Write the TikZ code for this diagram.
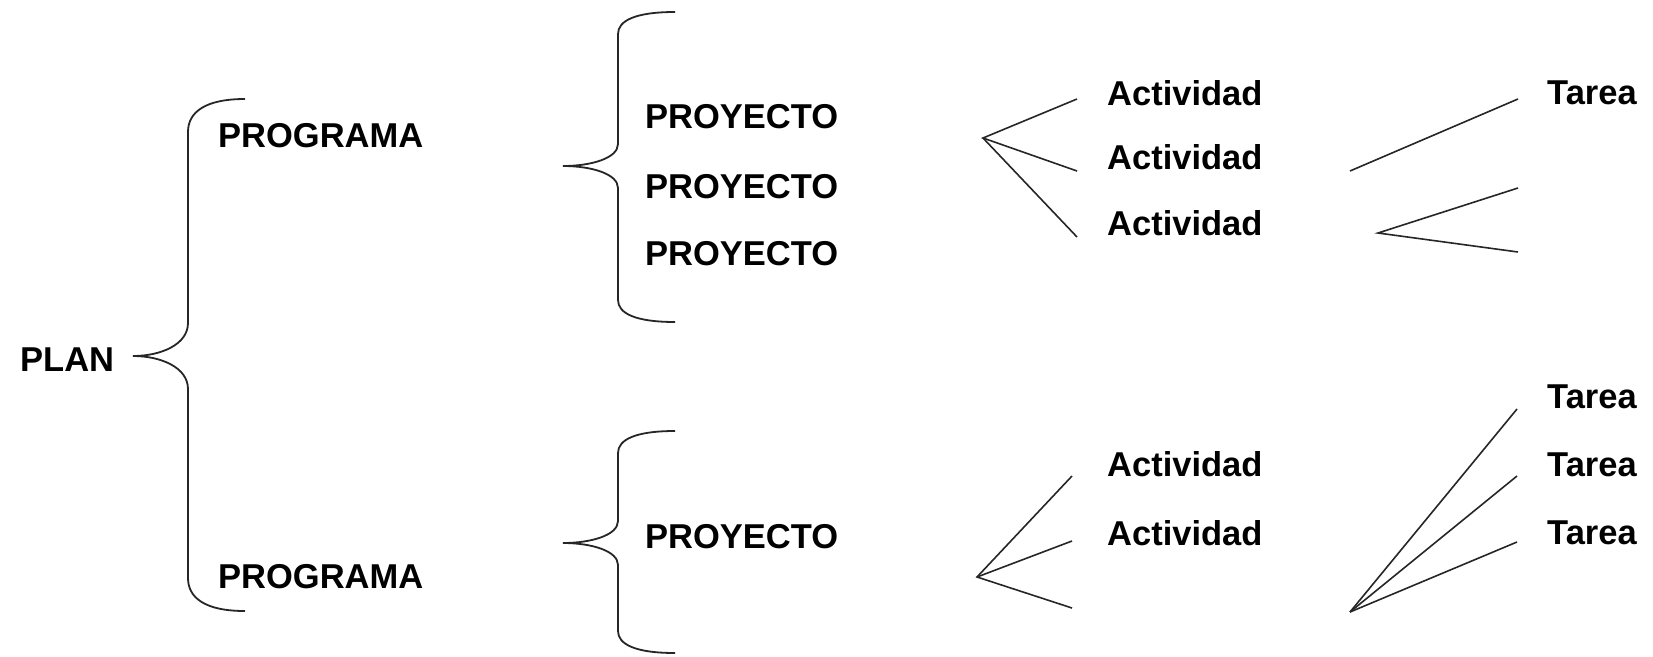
\documentclass[tikz,border=0pt]{standalone}
\usepackage{fontspec}
\setmainfont{Liberation Sans}
\usepackage{tikz}
\usetikzlibrary{calc, positioning}
\tikzset{
    textnode/.style = {draw=none, fill=none, rectangle, inner sep=0em, anchor=west,
      font=\fontsize{34.5}{40}\selectfont\bfseries},
    rama/.style = {black!85, line width=1.6pt},
    llavepath/.style = {black!85, line width=1.8pt}
}
% llave: tip x, tip y, top y, bottom y, curve size
\newcommand{\llave}[5]{
  \draw[llavepath] ({#1+112},#3) .. controls ({#1+72},#3) and ({#1+55},{#3+0.4*#5}) .. ({#1+55},{#3+#5})
    -- ({#1+55},{#2-#5}) .. controls ({#1+55},{#2-0.35*#5}) and ({#1+28},#2) .. (#1,#2)
    .. controls ({#1+28},#2) and ({#1+55},{#2+0.35*#5}) .. ({#1+55},{#2+#5})
    -- ({#1+55},{#4-#5}) .. controls ({#1+55},{#4-0.4*#5}) and ({#1+72},#4) .. ({#1+112},#4);
}

\begin{document}
\begin{tikzpicture}[x=1pt, y=-1pt]
\useasboundingbox (0,0) rectangle (1653,656);

\node[textnode, name=plan] at (20,360) {PLAN};
\node[textnode, name=prog1] at (218,136) {PROGRAMA};
\node[textnode, name=prog2] at (218,577) {PROGRAMA};

\node[textnode, name=proy1] at (645,117) {PROYECTO};
\node[textnode, name=proy2] at (645,187) {PROYECTO};
\node[textnode, name=proy3] at (645,254) {PROYECTO};
\node[textnode, name=proy4] at (645,537) {PROYECTO};

\node[textnode, name=act1] at (1107,93) {Actividad};
\node[textnode, name=act2] at (1107,157) {Actividad};
\node[textnode, name=act3] at (1107,223) {Actividad};
\node[textnode, name=act4] at (1107,464) {Actividad};
\node[textnode, name=act5] at (1107,533) {Actividad};

\node[textnode, name=tar1] at (1547,93) {Tarea};
\node[textnode, name=tar2] at (1547,397) {Tarea};
\node[textnode, name=tar3] at (1547,465) {Tarea};
\node[textnode, name=tar4] at (1547,533) {Tarea};

% llaves
\llave{133}{356}{99}{611}{33}
\llave{563}{166}{12}{322}{22}
\llave{563}{543}{431}{653}{22}

% ramas de actividades
\coordinate (ra1) at (983,138);
\coordinate (ra1a) at (1077,99);
\coordinate (ra1b) at (1077,171);
\coordinate (ra1c) at (1077,237);
\draw[rama] (ra1a) -- (ra1) -- (ra1b);
\draw[rama] (ra1) -- (ra1c);

\coordinate (ra2) at (977,577);
\coordinate (ra2a) at (1072,476);
\coordinate (ra2b) at (1072,541);
\coordinate (ra2c) at (1072,608);
\draw[rama] (ra2a) -- (ra2) -- (ra2c);
\draw[rama] (ra2) -- (ra2b);

% ramas de tareas
\coordinate (rt1) at (1350,171);
\coordinate (rt1a) at (1518,99);
\draw[rama] (rt1) -- (rt1a);

\coordinate (rt2) at (1378,233);
\coordinate (rt2a) at (1518,188);
\coordinate (rt2b) at (1518,252);
\draw[rama] (rt2a) -- (rt2) -- (rt2b);

\coordinate (rt3) at (1350,612);
\coordinate (rt3a) at (1517,409);
\coordinate (rt3b) at (1517,476);
\coordinate (rt3c) at (1517,542);
\draw[rama] (rt3) -- (rt3a);
\draw[rama] (rt3) -- (rt3b);
\draw[rama] (rt3) -- (rt3c);
\end{tikzpicture}
\end{document}
